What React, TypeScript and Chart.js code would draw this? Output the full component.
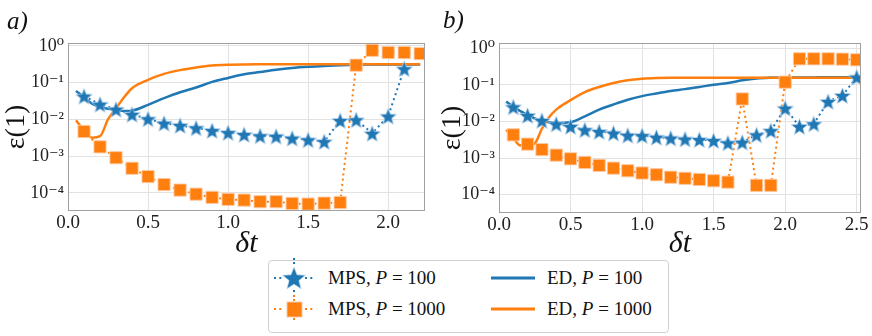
import React, { useEffect, useRef } from 'react';
import { Chart, registerables } from 'chart.js';
Chart.register(...registerables);

const BLUE = '#1f77b4';
const ORANGE = '#ff7f0e';
const FONT = "'Liberation Serif', 'DejaVu Serif', serif";

// ---------- Panel a ----------
const mpsXA100 = [0.1, 0.2, 0.3, 0.4, 0.5, 0.6, 0.7, 0.8, 0.9, 1.0, 1.1, 1.2, 1.3, 1.4, 1.5, 1.6, 1.7, 1.8, 1.9, 2.0, 2.1];
const mpsA100 = [0.043, 0.026, 0.019, 0.0138, 0.0104, 0.0079, 0.0069, 0.0059, 0.005, 0.0044, 0.0039, 0.0036, 0.0035, 0.0031, 0.0028, 0.0025, 0.0094, 0.0098, 0.0042, 0.0123, 0.24];
const mpsXA1000 = [0.1, 0.2, 0.3, 0.4, 0.5, 0.6, 0.7, 0.8, 0.9, 1.0, 1.1, 1.2, 1.3, 1.4, 1.5, 1.6, 1.7, 1.8, 1.9, 2.0, 2.1, 2.2];
const mpsA1000 = [0.0047, 0.0018, 0.00091, 0.00047, 0.00028, 0.00017, 0.00012, 0.000093, 0.000076, 0.000067, 0.000064, 0.000058, 0.000058, 0.000052, 0.00005, 0.000053, 0.000055, 0.30, 0.76, 0.66, 0.66, 0.62];
const edXA = [0.05, 0.1, 0.15, 0.2, 0.25, 0.3, 0.35, 0.4, 0.5, 0.6, 0.7, 0.8, 0.9, 1.0, 1.1, 1.2, 1.3, 1.4, 1.5, 1.6, 1.7, 1.8, 1.9, 2.0, 2.1, 2.2];
const edA100 = [0.06, 0.04, 0.027, 0.022, 0.0195, 0.018, 0.017, 0.0174, 0.025, 0.038, 0.055, 0.074, 0.105, 0.135, 0.17, 0.195, 0.224, 0.25, 0.27, 0.285, 0.3, 0.31, 0.313, 0.314, 0.315, 0.315];
const edA1000 = [0.0095, 0.005, 0.0032, 0.0035, 0.01, 0.02, 0.04, 0.071, 0.12, 0.174, 0.22, 0.26, 0.295, 0.31, 0.315, 0.316, 0.316, 0.316, 0.316, 0.316, 0.316, 0.316, 0.316, 0.316, 0.316, 0.316];

// ---------- Panel b ----------
const mpsXB = [0.1, 0.2, 0.3, 0.4, 0.5, 0.6, 0.7, 0.8, 0.9, 1.0, 1.1, 1.2, 1.3, 1.4, 1.5, 1.6, 1.7, 1.8, 1.9, 2.0, 2.1, 2.2, 2.3, 2.4, 2.5];
const mpsB100 = [0.025, 0.0146, 0.0106, 0.0085, 0.0073, 0.0059, 0.0053, 0.0048, 0.0042, 0.0041, 0.0037, 0.0035, 0.0033, 0.0032, 0.003, 0.0026, 0.0027, 0.0043, 0.0056, 0.023, 0.0073, 0.0086, 0.035, 0.051, 0.162];
const mpsB1000 = [0.0043, 0.0024, 0.0017, 0.0012, 0.00095, 0.00076, 0.00063, 0.00053, 0.00045, 0.00039, 0.00035, 0.0003, 0.00028, 0.00026, 0.00024, 0.00022, 0.041, 0.00018, 0.00018, 0.118, 0.51, 0.51, 0.51, 0.5, 0.48];
const edXB = [0.05, 0.1, 0.15, 0.2, 0.25, 0.3, 0.35, 0.4, 0.5, 0.6, 0.7, 0.8, 0.9, 1.0, 1.1, 1.2, 1.3, 1.4, 1.5, 1.6, 1.7, 1.8, 1.9, 2.0, 2.1, 2.2, 2.3, 2.4, 2.5];
const edB100 = [0.035, 0.025, 0.019, 0.0148, 0.012, 0.0105, 0.0095, 0.0091, 0.0095, 0.0138, 0.021, 0.029, 0.039, 0.049, 0.058, 0.068, 0.076, 0.087, 0.1, 0.112, 0.132, 0.148, 0.155, 0.158, 0.158, 0.159, 0.16, 0.16, 0.16];
const edB1000 = [0.0059, 0.0035, 0.0022, 0.0022, 0.0025, 0.0063, 0.013, 0.021, 0.038, 0.063, 0.087, 0.112, 0.132, 0.145, 0.152, 0.155, 0.155, 0.155, 0.155, 0.155, 0.155, 0.155, 0.155, 0.155, 0.155, 0.155, 0.155, 0.155, 0.155];

// ---------- Axes ----------
const yTickValues = [1e-4, 1e-3, 1e-2, 1e-1, 1];
const yTickLabels = ['10⁻⁴', '10⁻³', '10⁻²', '10⁻¹', '10⁰'];
const xTickStep = 0.5;
const legendLabels = ['MPS, ', 'MPS, ', 'ED, ', 'ED, '];
const legendP = ['100', '1000', '100', '1000'];

function makeStar(size: number, fill: string, stroke: string) {
  const c = document.createElement('canvas');
  c.width = size;
  c.height = size;
  const ctx = c.getContext('2d')!;
  const cx = size / 2;
  const cy = size / 2 + size * 0.05;
  const R = size / 2 - 0.8;
  const r = R * 0.43;
  ctx.beginPath();
  for (let i = 0; i < 10; i++) {
    const a = -Math.PI / 2 + (i * Math.PI) / 5;
    const rad = i % 2 ? r : R;
    ctx.lineTo(cx + rad * Math.cos(a), cy + rad * Math.sin(a));
  }
  ctx.closePath();
  ctx.fillStyle = fill;
  ctx.fill();
  ctx.strokeStyle = stroke;
  ctx.lineWidth = 0.8;
  ctx.stroke();
  return c;
}

const framePlugin = {
  id: 'frame',
  afterDraw(chart: any) {
    const { ctx, chartArea } = chart;
    const { left, top, right, bottom } = chartArea;
    ctx.save();
    ctx.strokeStyle = '#a0a0a0';
    ctx.lineWidth = 1;
    ctx.strokeRect(Math.round(left) + 0.5, Math.round(top) + 0.5, Math.round(right - left) - 1, Math.round(bottom - top) - 1);
    ctx.restore();
  },
};

type PanelSpec = {
  xs100: number[]; m100: number[]; xs1000: number[]; m1000: number[];
  edX: number[]; ed100: number[]; ed1000: number[];
  xMax: number; yMin: number; yMax: number;
  padTop: number; padRight: number; yAxisW: number; xAxisH: number;
};

function buildConfig(p: PanelSpec, star: HTMLCanvasElement): any {
  const pts = (xs: number[], ys: number[]) => xs.map((x, i) => ({ x, y: ys[i] }));
  return {
    type: 'line',
    data: {
      datasets: [
        {
          label: 'MPS, P = 100', data: pts(p.xs100, p.m100), borderColor: BLUE, borderWidth: 2,
          borderDash: [2, 3.3], pointStyle: star, pointRadius: 9, order: 1,
        },
        {
          label: 'MPS, P = 1000', data: pts(p.xs1000, p.m1000), borderColor: ORANGE, borderWidth: 2,
          borderDash: [2, 3.3], pointStyle: 'rect', pointRadius: 8.6,
          pointBackgroundColor: ORANGE, pointBorderColor: 'rgba(255,200,160,0.9)', pointBorderWidth: 1, order: 2,
        },
        {
          label: 'ED, P = 100', data: pts(p.edX, p.ed100), borderColor: BLUE, borderWidth: 2.5,
          pointRadius: 0, cubicInterpolationMode: 'monotone', order: 4,
        },
        {
          label: 'ED, P = 1000', data: pts(p.edX, p.ed1000), borderColor: ORANGE, borderWidth: 2.5,
          pointRadius: 0, cubicInterpolationMode: 'monotone', order: 3,
        },
      ],
    },
    options: {
      responsive: false,
      animation: false,
      events: [],
      layout: { padding: { left: 0, right: p.padRight, top: p.padTop, bottom: 0 } },
      plugins: { legend: { display: false }, tooltip: { enabled: false } },
      scales: {
        x: {
          type: 'linear', min: 0, max: p.xMax,
          ticks: {
            stepSize: xTickStep, includeBounds: false, padding: 1, color: '#222',
            font: { family: FONT, size: 19 },
            callback: (v: any) => Number(v).toFixed(1),
          },
          grid: { color: '#e2e2e2', drawTicks: false, lineWidth: 1 },
          border: { display: false },
          title: { display: true, text: 'δt', color: '#111', padding: 0, font: { family: FONT, size: 30, style: 'italic' } },
          afterFit: (s: any) => { s.height = p.xAxisH; },
        },
        y: {
          type: 'logarithmic', min: p.yMin, max: p.yMax,
          afterBuildTicks: (s: any) => { s.ticks = yTickValues.map((v) => ({ value: v })); },
          ticks: {
            padding: 4, color: '#222', font: { family: FONT, size: 18 },
            callback: (v: any) => {
              const i = yTickValues.findIndex((t) => Math.abs(Math.log10(t) - Math.log10(Number(v))) < 1e-6);
              return i >= 0 ? yTickLabels[i] : '';
            },
          },
          grid: { color: '#e2e2e2', drawTicks: false, lineWidth: 1 },
          border: { display: false },
          title: { display: true, text: 'ε(1)', color: '#111', padding: 0, font: { family: FONT, size: 28 } },
          afterFit: (s: any) => { s.width = p.yAxisW; },
        },
      },
    },
    plugins: [framePlugin],
  };
}

const panelA: PanelSpec = {
  xs100: mpsXA100, m100: mpsA100, xs1000: mpsXA1000, m1000: mpsA1000,
  edX: edXA, ed100: edA100, ed1000: edA1000,
  xMax: 2.23, yMin: Math.pow(10, -4.49), yMax: Math.pow(10, 0.08),
  padTop: 43, padRight: 8, yAxisW: 68, xAxisH: 51,
};
const panelB: PanelSpec = {
  xs100: mpsXB, m100: mpsB100, xs1000: mpsXB, m1000: mpsB1000,
  edX: edXB, ed100: edB100, ed1000: edB1000,
  xMax: 2.53, yMin: Math.pow(10, -4.5), yMax: Math.pow(10, 0.14),
  padTop: 43, padRight: 10, yAxisW: 63, xAxisH: 49,
};

function Panel({ spec, left, width, height }: { spec: PanelSpec; left: number; width: number; height: number }) {
  const ref = useRef<HTMLCanvasElement>(null);
  useEffect(() => {
    const star = makeStar(19, BLUE, 'rgba(190,215,240,0.9)');
    const chart = new Chart(ref.current!, buildConfig(spec, star));
    return () => chart.destroy();
  }, [spec]);
  return (
    <canvas ref={ref} width={width} height={height}
      style={{ position: 'absolute', left, top: 0, width, height }} />
  );
}

function starPoints(cx: number, cy: number, R: number) {
  const r = R * 0.43;
  const out: string[] = [];
  for (let i = 0; i < 10; i++) {
    const a = -Math.PI / 2 + (i * Math.PI) / 5;
    const rad = i % 2 ? r : R;
    out.push(`${(cx + rad * Math.cos(a)).toFixed(2)},${(cy + rad * Math.sin(a)).toFixed(2)}`);
  }
  return out.join(' ');
}

function Legend() {
  const textStyle = (left: number, cy: number): React.CSSProperties => ({
    position: 'absolute', left, top: cy - 12, height: 24, lineHeight: '24px',
    fontFamily: FONT, fontSize: 19, color: '#111', whiteSpace: 'nowrap',
  });
  const rows = [17, 48];
  return (
    <div style={{
      position: 'absolute', left: 268, top: 260, width: 399, height: 71,
      border: '1px solid #d0d0d0', borderRadius: 4, background: '#fff',
    }}>
      <svg width={401} height={73} style={{ position: 'absolute', left: -1, top: -1, overflow: 'visible' }}>
        {/* MPS P=100 */}
        <line x1={6} y1={18} x2={15} y2={18} stroke={BLUE} strokeWidth={2} strokeDasharray="2,3.3" />
        <line x1={37} y1={18} x2={46} y2={18} stroke={BLUE} strokeWidth={2} strokeDasharray="2,3.3" />
        <line x1={26} y1={-2} x2={26} y2={6} stroke={BLUE} strokeWidth={2} strokeDasharray="2,2" />
        <polygon points={starPoints(26, 19, 12)} fill={BLUE} stroke="rgba(190,215,240,0.9)" strokeWidth={0.8} />
        <line x1={26} y1={30} x2={26} y2={34} stroke={BLUE} strokeWidth={2} strokeDasharray="2,2" />
        {/* MPS P=1000 */}
        <line x1={6} y1={49} x2={15} y2={49} stroke={ORANGE} strokeWidth={2} strokeDasharray="2,3.3" />
        <line x1={37} y1={49} x2={46} y2={49} stroke={ORANGE} strokeWidth={2} strokeDasharray="2,3.3" />
        <line x1={26} y1={35} x2={26} y2={41} stroke={ORANGE} strokeWidth={2} strokeDasharray="2,2" />
        <rect x={19} y={42} width={15} height={15} fill={ORANGE} stroke="rgba(255,200,160,0.9)" strokeWidth={1} />
        <line x1={26} y1={58} x2={26} y2={62} stroke={ORANGE} strokeWidth={2} strokeDasharray="2,2" />
        {/* ED */}
        <line x1={223} y1={18} x2={267} y2={18} stroke={BLUE} strokeWidth={3} />
        <line x1={223} y1={49} x2={267} y2={49} stroke={ORANGE} strokeWidth={3} />
      </svg>
      <span style={textStyle(59, rows[0])}>{legendLabels[0]}<i>P</i> = {legendP[0]}</span>
      <span style={textStyle(59, rows[1])}>{legendLabels[1]}<i>P</i> = {legendP[1]}</span>
      <span style={textStyle(278, rows[0])}>{legendLabels[2]}<i>P</i> = {legendP[2]}</span>
      <span style={textStyle(278, rows[1])}>{legendLabels[3]}<i>P</i> = {legendP[3]}</span>
    </div>
  );
}

export default function App() {
  const label: React.CSSProperties = {
    position: 'absolute', fontFamily: FONT, fontStyle: 'italic', fontSize: 25, color: '#111', lineHeight: '30px',
  };
  return (
    <div style={{ position: 'fixed', left: 0, top: 0, width: 872, height: 336, background: '#fff', overflow: 'hidden' }}>
      <Panel spec={panelA} left={0} width={436} height={262} />
      <Panel spec={panelB} left={436} width={436} height={262} />
      <div style={{ ...label, left: 7, top: 6 }}>a)</div>
      <div style={{ ...label, left: 443, top: 5 }}>b)</div>
      <Legend />
    </div>
  );
}
